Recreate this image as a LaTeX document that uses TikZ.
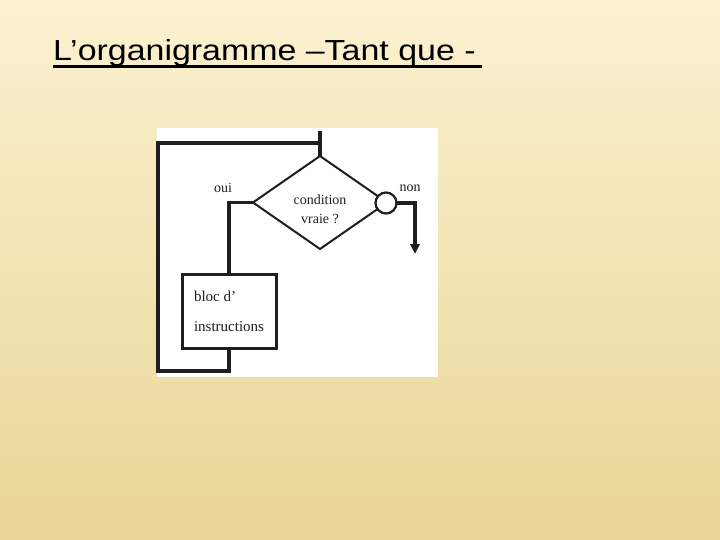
\documentclass[tikz,border=0pt]{standalone}
\usepackage{fontspec}
\setmainfont{Liberation Serif}
\newfontfamily\titrefont{Liberation Sans}
\usetikzlibrary{shapes.geometric,arrows.meta}
\definecolor{fondhaut}{RGB}{252,242,209}
\definecolor{fondbas}{RGB}{233,213,150}
\definecolor{encre}{RGB}{30,30,30}
\tikzset{
  fil/.style={line width=3.4pt, encre},
  test/.style={diamond, draw=encre, line width=2pt, minimum width=134pt, minimum height=93pt, inner sep=0pt, outer sep=0pt},
  bloc/.style={draw=encre, line width=3pt, minimum width=94pt, minimum height=74pt, align=left, inner sep=0pt, outer sep=0pt, font=\fontsize{15}{18}\selectfont, text=encre},
  etiq/.style={font=\fontsize{14}{16}\selectfont, text=encre, inner sep=0pt}
}
\begin{document}
\begin{tikzpicture}[x=1pt,y=-1pt]
  \useasboundingbox (0,0) rectangle (720,540);
  \shade[top color=fondhaut, bottom color=fondbas] (0,0) rectangle (720,540);
  % titre
  \node[inner sep=0pt, anchor=base west, font=\titrefont\fontsize{29}{32}\selectfont, xscale=1.17] (titre) at (53,61) {L’organigramme –Tant que -};
  \draw[line width=2.8pt] (53,66.5) -- (482,66.5);
  % cadre blanc
  \fill[white] (157,128) rectangle (438,377);
  % noeuds
  \node[test, label={[etiq, yshift=-7pt, align=center]center:condition\\[3pt]vraie ?}] (cond) at (320,202.5) {};
  \node[circle, draw=encre, fill=white, line width=2.2pt, minimum size=21pt, inner sep=0pt, outer sep=0pt] (sortie) at (386,203) {};
  \node[bloc] (instr) at (229,311) {bloc d'\\[12pt]instructions};
  \node[etiq] (oui) at (223,188) {oui};
  \node[etiq] (non) at (410,188) {non};
  \coordinate (entree) at (320,131);
  \coordinate (bas) at (158,371);
  \coordinate (haut) at (158,143);
  \coordinate (fin) at (415,254);
  % liaisons
  \draw[fil] (entree) -- (cond.north);
  \draw[fil] (cond.west) -| (instr.north);
  \draw[fil] (instr.south) |- (bas) -- (haut) -- (haut -| cond.north);
  \draw[fil, -{Triangle[length=10pt, width=9pt]}] (sortie.east) -| (fin);
\end{tikzpicture}
\end{document}
